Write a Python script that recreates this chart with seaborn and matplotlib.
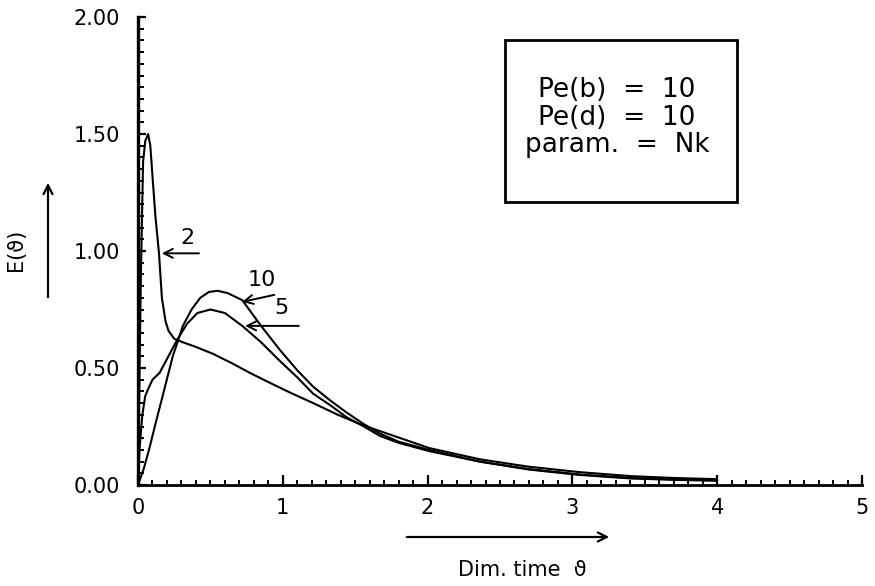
import numpy as np
import pandas as pd
import matplotlib
matplotlib.use("Agg")
import matplotlib.pyplot as plt
from matplotlib.patches import Rectangle
from matplotlib.ticker import MultipleLocator, FormatStrFormatter
import seaborn as sns

# Residence time distribution E(theta) for Pe(b) = Pe(d) = 10, parameter Nk
nk2_x = [0, 0.01, 0.02, 0.035, 0.05, 0.07, 0.085, 0.10, 0.12, 0.145, 0.165, 0.19,
         0.21, 0.25, 0.31, 0.40, 0.52, 0.65, 0.77, 0.90, 1.05, 1.21, 1.38, 1.55,
         1.79, 2.01, 2.36, 2.70, 3.05, 3.40, 3.70, 4.00]
nk2_y = [0, 0.45, 0.90, 1.38, 1.47, 1.50, 1.45, 1.32, 1.15, 0.99, 0.80, 0.70,
         0.66, 0.625, 0.61, 0.59, 0.56, 0.52, 0.48, 0.44, 0.395, 0.35, 0.30, 0.256,
         0.205, 0.158, 0.11, 0.078, 0.055, 0.038, 0.030, 0.025]

nk5_x = [0, 0.01, 0.03, 0.05, 0.07, 0.10, 0.15, 0.21, 0.27, 0.34, 0.41, 0.50,
         0.60, 0.72, 0.85, 0.98, 1.10, 1.21, 1.33, 1.44, 1.56, 1.67, 1.80, 2.01,
         2.36, 2.70, 3.05, 3.40, 3.70, 4.00]
nk5_y = [0, 0.15, 0.30, 0.38, 0.41, 0.45, 0.48, 0.55, 0.62, 0.69, 0.735, 0.75,
         0.735, 0.68, 0.61, 0.53, 0.46, 0.39, 0.34, 0.29, 0.25, 0.21, 0.18, 0.145,
         0.10, 0.068, 0.045, 0.030, 0.024, 0.020]

nk10_x = [0, 0.04, 0.08, 0.12, 0.17, 0.24, 0.31, 0.37, 0.43, 0.49, 0.55, 0.62,
          0.72, 0.85, 0.98, 1.10, 1.21, 1.33, 1.44, 1.56, 1.67, 1.80, 2.01, 2.36,
          2.70, 3.05, 3.40, 3.70, 4.00]
nk10_y = [0, 0.07, 0.16, 0.26, 0.38, 0.55, 0.68, 0.75, 0.80, 0.825, 0.83, 0.82,
          0.79, 0.68, 0.577, 0.49, 0.42, 0.36, 0.31, 0.26, 0.22, 0.185, 0.15, 0.10,
          0.066, 0.043, 0.028, 0.022, 0.018]

nk_labels = ["2", "5", "10"]
x_ticks = [0, 1, 2, 3, 4, 5]
y_ticks = [0.0, 0.5, 1.0, 1.5, 2.0]
info_lines = ["Pe(b)  =  10", "Pe(d)  =  10", "param.  =  Nk"]

frames = []
for lab, xs, ys in zip(nk_labels, [nk2_x, nk5_x, nk10_x], [nk2_y, nk5_y, nk10_y]):
    frames.append(pd.DataFrame({"theta": xs, "E": ys, "Nk": lab}))
df = pd.concat(frames, ignore_index=True)

sns.set_style("white")
plt.rcParams["font.family"] = ["DejaVu Sans"]
plt.rcParams["text.color"] = "black"
plt.rcParams["xtick.color"] = "black"
plt.rcParams["ytick.color"] = "black"

W, H = 875, 586
fig = plt.figure(figsize=(W / 100, H / 100), dpi=100)
ax = fig.add_axes([138 / W, (H - 485) / H, (862 - 138) / W, (485 - 17) / H])

sns.lineplot(data=df, x="theta", y="E", hue="Nk", units="Nk", estimator=None,
             sort=False, palette={k: "black" for k in nk_labels},
             linewidth=1.5, legend=False, ax=ax)

ax.set_xlim(0, 5)
ax.set_ylim(0, 2)
ax.set_xlabel("")
ax.set_ylabel("")
for s in ("top", "right"):
    ax.spines[s].set_visible(False)
ax.spines["left"].set_linewidth(2.4)
ax.spines["bottom"].set_linewidth(2.0)
ax.spines["left"].set_color("black")
ax.spines["bottom"].set_color("black")

ax.set_xticks(x_ticks)
ax.set_yticks(y_ticks)
ax.xaxis.set_minor_locator(MultipleLocator(0.1))
ax.yaxis.set_minor_locator(MultipleLocator(0.05))
ax.yaxis.set_major_formatter(FormatStrFormatter("%.2f"))
ax.tick_params(axis="both", which="both", bottom=True, left=True, top=False, right=False)
ax.tick_params(axis="x", which="major", direction="in", length=7, width=1.6,
               pad=9, labelsize=15, colors="black")
ax.tick_params(axis="x", which="minor", direction="in", length=3.5, width=1.4,
               colors="black")
ax.tick_params(axis="y", which="major", direction="in", length=6, width=1.6,
               pad=13, labelsize=15, colors="black")
ax.tick_params(axis="y", which="minor", direction="in", length=4.5, width=1.4,
               colors="black")

# curve labels with pointer arrows
arrow_kw = dict(arrowstyle="->", color="black", lw=1.4, mutation_scale=16)
ax.annotate("", xy=(0.145, 0.99), xytext=(0.44, 0.99), arrowprops=arrow_kw)
ax.text(0.34, 1.055, "2", fontsize=16, ha="center", va="center")
ax.annotate("", xy=(0.70, 0.78), xytext=(0.96, 0.815), arrowprops=arrow_kw)
ax.text(0.855, 0.875, "10", fontsize=16, ha="center", va="center")
ax.annotate("", xy=(0.72, 0.68), xytext=(1.13, 0.68), arrowprops=arrow_kw)
ax.text(0.99, 0.755, "5", fontsize=16, ha="center", va="center")

# parameter box
fig.patches.append(Rectangle((505 / W, (H - 202) / H), (737 - 505) / W, (202 - 40) / H,
                             transform=fig.transFigure, fill=False,
                             edgecolor="black", linewidth=2.0))
for yy, line in zip([90, 118, 145], info_lines):
    fig.text(617 / W, (H - yy) / H, line, fontsize=19, ha="center", va="center")

# axis titles with direction arrows
fig.text(16 / W, (H - 250) / H, "E(ϑ)", fontsize=15, rotation=90,
         ha="center", va="center")
ax.annotate("", xy=(48 / W, (H - 180) / H), xytext=(48 / W, (H - 300) / H),
            xycoords="figure fraction", textcoords="figure fraction",
            arrowprops=dict(arrowstyle="->", color="black", lw=1.6, mutation_scale=16),
            annotation_clip=False)
ax.annotate("", xy=(612 / W, (H - 537) / H), xytext=(404 / W, (H - 537) / H),
            xycoords="figure fraction", textcoords="figure fraction",
            arrowprops=dict(arrowstyle="->", color="black", lw=1.6, mutation_scale=16),
            annotation_clip=False)
fig.text(522 / W, (H - 570) / H, "Dim. time  ϑ", fontsize=15, ha="center", va="center")

fig.savefig("out.png", dpi=100)
